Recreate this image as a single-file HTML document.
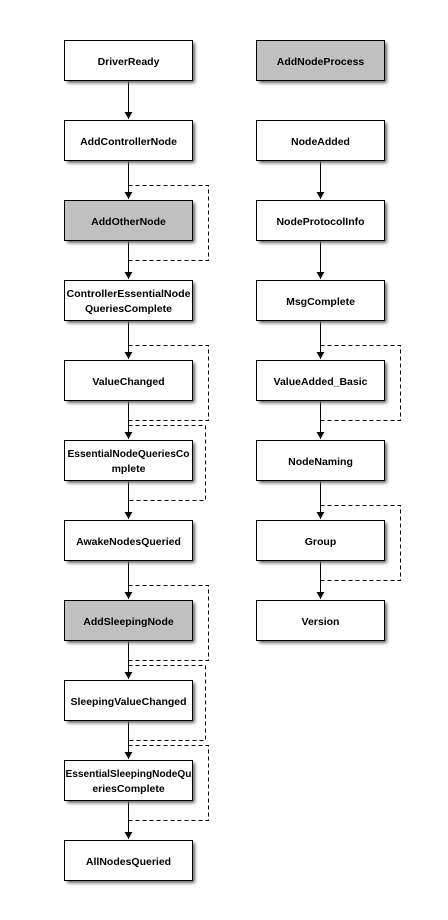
<!DOCTYPE html>
<html><head><meta charset="utf-8"><style>
html,body{margin:0;padding:0;background:#fff;}
svg{display:block;}
text{font-family:"Liberation Sans","DejaVu Sans",sans-serif;font-weight:bold;font-size:10.5px;fill:#000;text-anchor:middle;}
</style></head><body>
<svg width="448" height="920" viewBox="0 0 448 920" xmlns="http://www.w3.org/2000/svg">
<defs>
<filter id="sh" x="-10%" y="-20%" width="130%" height="160%"><feGaussianBlur stdDeviation="1.5"/></filter>
<marker id="ah" markerWidth="8" markerHeight="8" refX="4" refY="7" orient="0" markerUnits="userSpaceOnUse"><path d="M0,0 L8,0 L4,7 Z" fill="#000"/></marker>
</defs>
<g stroke="#000" stroke-width="1" fill="none">
<line x1="128.5" y1="80" x2="128.5" y2="119" marker-end="url(#ah)"/>
<line x1="128.5" y1="160" x2="128.5" y2="199" marker-end="url(#ah)"/>
<line x1="128.5" y1="240" x2="128.5" y2="279" marker-end="url(#ah)"/>
<line x1="128.5" y1="320" x2="128.5" y2="359" marker-end="url(#ah)"/>
<line x1="128.5" y1="400" x2="128.5" y2="439" marker-end="url(#ah)"/>
<line x1="128.5" y1="480" x2="128.5" y2="519" marker-end="url(#ah)"/>
<line x1="128.5" y1="560" x2="128.5" y2="599" marker-end="url(#ah)"/>
<line x1="128.5" y1="640" x2="128.5" y2="679" marker-end="url(#ah)"/>
<line x1="128.5" y1="720" x2="128.5" y2="759" marker-end="url(#ah)"/>
<line x1="128.5" y1="800" x2="128.5" y2="839" marker-end="url(#ah)"/>
<line x1="320.5" y1="160" x2="320.5" y2="199" marker-end="url(#ah)"/>
<line x1="320.5" y1="240" x2="320.5" y2="279" marker-end="url(#ah)"/>
<line x1="320.5" y1="320" x2="320.5" y2="359" marker-end="url(#ah)"/>
<line x1="320.5" y1="400" x2="320.5" y2="439" marker-end="url(#ah)"/>
<line x1="320.5" y1="480" x2="320.5" y2="519" marker-end="url(#ah)"/>
<line x1="320.5" y1="560" x2="320.5" y2="599" marker-end="url(#ah)"/>
</g>
<g stroke="#000" stroke-width="1" fill="none" stroke-dasharray="4,3">
<path d="M128.5,185.5 H208.5 V260.5 H128.5"/>
<path d="M128.5,345.5 H208.5 V420.5 H128.5"/>
<path d="M128.5,425.5 H205.5 V500.5 H128.5"/>
<path d="M128.5,585.5 H208.5 V660.5 H128.5"/>
<path d="M128.5,665.5 H205.5 V740.5 H128.5"/>
<path d="M128.5,745.5 H208.5 V820.5 H128.5"/>
<path d="M320.5,345.5 H400.5 V420.5 H320.5"/>
<path d="M320.5,505.5 H400.5 V580.5 H320.5"/>
</g>
<g fill="#666" filter="url(#sh)">
<rect x="67" y="43" width="128" height="40"/><rect x="67" y="123" width="128" height="40"/><rect x="67" y="203" width="128" height="40"/><rect x="67" y="283" width="128" height="40"/><rect x="67" y="363" width="128" height="40"/><rect x="67" y="443" width="128" height="40"/><rect x="67" y="523" width="128" height="40"/><rect x="67" y="603" width="128" height="40"/><rect x="67" y="683" width="128" height="40"/><rect x="67" y="763" width="128" height="40"/><rect x="67" y="843" width="128" height="40"/>
<rect x="259" y="43" width="128" height="40"/><rect x="259" y="123" width="128" height="40"/><rect x="259" y="203" width="128" height="40"/><rect x="259" y="283" width="128" height="40"/><rect x="259" y="363" width="128" height="40"/><rect x="259" y="443" width="128" height="40"/><rect x="259" y="523" width="128" height="40"/><rect x="259" y="603" width="128" height="40"/>
</g>
<g stroke="#000" stroke-width="1">
<rect x="64.5" y="40.5" width="128" height="40" fill="#fff"/>
<rect x="64.5" y="120.5" width="128" height="40" fill="#fff"/>
<rect x="64.5" y="200.5" width="128" height="40" fill="#c0c0c0"/>
<rect x="64.5" y="280.5" width="128" height="40" fill="#fff"/>
<rect x="64.5" y="360.5" width="128" height="40" fill="#fff"/>
<rect x="64.5" y="440.5" width="128" height="40" fill="#fff"/>
<rect x="64.5" y="520.5" width="128" height="40" fill="#fff"/>
<rect x="64.5" y="600.5" width="128" height="40" fill="#c0c0c0"/>
<rect x="64.5" y="680.5" width="128" height="40" fill="#fff"/>
<rect x="64.5" y="760.5" width="128" height="40" fill="#fff"/>
<rect x="64.5" y="840.5" width="128" height="40" fill="#fff"/>
<rect x="256.5" y="40.5" width="128" height="40" fill="#c0c0c0"/>
<rect x="256.5" y="120.5" width="128" height="40" fill="#fff"/>
<rect x="256.5" y="200.5" width="128" height="40" fill="#fff"/>
<rect x="256.5" y="280.5" width="128" height="40" fill="#fff"/>
<rect x="256.5" y="360.5" width="128" height="40" fill="#fff"/>
<rect x="256.5" y="440.5" width="128" height="40" fill="#fff"/>
<rect x="256.5" y="520.5" width="128" height="40" fill="#fff"/>
<rect x="256.5" y="600.5" width="128" height="40" fill="#fff"/>
</g>
<g>
<text x="128.5" y="65">DriverReady</text>
<text x="128.5" y="145">AddControllerNode</text>
<text x="128.5" y="225">AddOtherNode</text>
<text x="128.5" y="297" textLength="124" lengthAdjust="spacingAndGlyphs">ControllerEssentialNode</text>
<text x="128.5" y="312">QueriesComplete</text>
<text x="128.5" y="385">ValueChanged</text>
<text x="128.5" y="457" textLength="122" lengthAdjust="spacingAndGlyphs">EssentialNodeQueriesCo</text>
<text x="128.5" y="472">mplete</text>
<text x="128.5" y="545">AwakeNodesQueried</text>
<text x="128.5" y="625">AddSleepingNode</text>
<text x="128.5" y="705">SleepingValueChanged</text>
<text x="128.5" y="777" textLength="126" lengthAdjust="spacingAndGlyphs">EssentialSleepingNodeQu</text>
<text x="128.5" y="792">eriesComplete</text>
<text x="128.5" y="865">AllNodesQueried</text>
<text x="320.5" y="65">AddNodeProcess</text>
<text x="320.5" y="145">NodeAdded</text>
<text x="320.5" y="225">NodeProtocolInfo</text>
<text x="320.5" y="305">MsgComplete</text>
<text x="320.5" y="385">ValueAdded_Basic</text>
<text x="320.5" y="465">NodeNaming</text>
<text x="320.5" y="545">Group</text>
<text x="320.5" y="625">Version</text>
</g>
</svg>
</body></html>
